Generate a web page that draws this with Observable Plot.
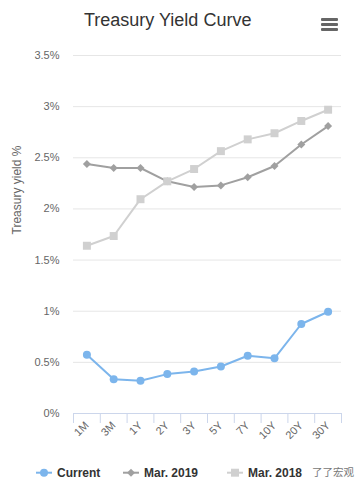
<!DOCTYPE html>
<html><head><meta charset="utf-8">
<script src="https://cdn.jsdelivr.net/npm/d3@7"></script>
<script src="https://cdn.jsdelivr.net/npm/@observablehq/plot@0.6"></script>
<style>
body{margin:0;background:#fff;font-family:"Liberation Sans",Arial,sans-serif;}
#wrap{position:relative;width:364px;height:488px;overflow:hidden;background:#fff}
#title{height:45px;box-sizing:border-box;padding-top:10px;line-height:20px;font-size:18px;color:#333;position:relative}
#title span{position:absolute;left:84px;top:10px;white-space:nowrap}
.bar{position:absolute;left:321px;width:17px;height:3px;background:#666;border-radius:1px}
#chart svg{display:block}
#legend{height:30px}
</style></head>
<body><div id="wrap">
<div id="title"><span>Treasury Yield Curve</span>
<div class="bar" style="top:18px"></div><div class="bar" style="top:23px"></div><div class="bar" style="top:28px"></div>
</div>
<div id="chart"></div>
<div id="legend"></div>
</div>
<script>
const categories = ["1M","3M","1Y","2Y","3Y","5Y","7Y","10Y","20Y","30Y"];
const current = [0.575,0.335,0.32,0.385,0.41,0.46,0.565,0.54,0.875,0.995];
const mar2019 = [2.44,2.40,2.40,2.27,2.215,2.23,2.31,2.42,2.63,2.81];
const mar2018 = [1.64,1.735,2.095,2.27,2.39,2.565,2.68,2.74,2.86,2.97];
const seriesNames = ["Current","Mar. 2019","Mar. 2018"];
const seriesColors = ["#7cb5ec","#a0a0a0","#d0d0d0"];
const seriesSymbols = ["circle","diamond2","square"];
const seriesR = [4,3.6,4.5];
const yTicks = [0,0.5,1,1.5,2,2.5,3,3.5];

const allSeries = [current, mar2019, mar2018];
const rows = allSeries.map((vals, s) => vals.map((v, i) => ({i, v, s: seriesNames[s]})));

const marks = [
  Plot.gridY(yTicks, {stroke:"#e6e6e6", strokeOpacity:1}),
  Plot.axisY(yTicks, {tickSize:0, tickPadding:14, tickFormat: d => d + "%", fill:"#666", label:null}),
  Plot.text(["Treasury yield %"], {frameAnchor:"left", dx:-56, rotate:-90, fontSize:12, fill:"#666"}),
  Plot.axisX(d3.range(-0.5, categories.length), {tickSize:10, tickFormat: () => "", stroke:"#ccd6eb", strokeOpacity:1, label:null}),
  Plot.axisX(d3.range(categories.length), {tickSize:0, tickPadding:10, tickFormat: i => categories[i], tickRotate:-45, fill:"#666", label:null}),
  Plot.ruleY([0], {stroke:"#ccd6eb"})
];
rows.forEach((r, s) => {
  marks.push(Plot.line(r, {x:"i", y:"v", stroke:seriesColors[s], strokeWidth:2}));
  marks.push(Plot.dot(r, {x:"i", y:"v", symbol:seriesSymbols[s], fill:seriesColors[s], r:seriesR[s], stroke:"none"}));
});

const plot = Plot.plot({
  width:364, height:413,
  marginTop:10, marginLeft:73, marginRight:23, marginBottom:45,
  style:{fontFamily:"Liberation Sans, Arial, sans-serif", fontSize:"11px", color:"#666", background:"#fff"},
  x:{type:"linear", domain:[-0.5, categories.length - 0.5], label:null},
  y:{domain:[0,3.5], label:null},
  marks
});
document.getElementById("chart").appendChild(plot);

// legend
const lx = [36, 123, 227];
const lsvg = d3.select("#legend").append("svg").attr("width",364).attr("height",30).style("display","block");
seriesNames.forEach((name, s) => {
  const g = lsvg.append("g").attr("transform", `translate(${lx[s]},14.7)`);
  g.append("line").attr("x1",0).attr("x2",16).attr("stroke",seriesColors[s]).attr("stroke-width",2);
  g.append("path").attr("transform","translate(8,0)").attr("fill",seriesColors[s])
    .attr("d", d3.symbol(s===0?d3.symbolCircle:s===1?d3.symbolDiamond2:d3.symbolSquare, Math.PI*seriesR[s]*seriesR[s])());
  g.append("text").attr("x",21).attr("dy","0.35em").attr("font-size",12).attr("font-weight","bold").attr("fill","#333")
    .attr("font-family","Liberation Sans, Arial, sans-serif").text(name);
});
lsvg.append("text").attr("x",312).attr("y",14.7).attr("dy","0.35em").attr("font-size",10.5).attr("fill","#777")
  .attr("font-family","Noto Sans CJK SC, sans-serif").text("了了宏观");
</script>
</body></html>
